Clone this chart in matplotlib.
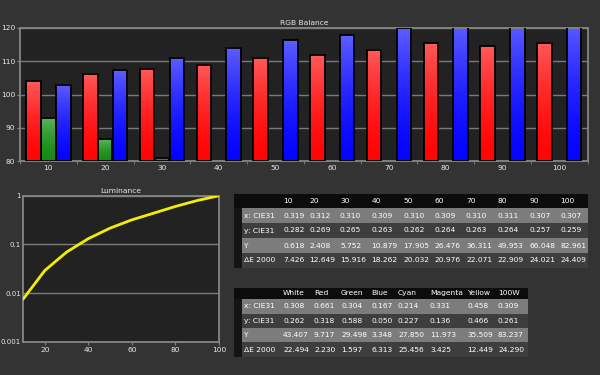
import numpy as np
import matplotlib
matplotlib.use("Agg")
import matplotlib.pyplot as plt
from matplotlib.colors import LinearSegmentedColormap

# ---------------- data ----------------
levels = [10, 20, 30, 40, 50, 60, 70, 80, 90, 100]
red_vals = [104.0, 106.2, 107.8, 109.0, 111.0, 111.8, 113.5, 115.4, 114.5, 115.6]
green_vals = [93.0, 86.5, 81.0, np.nan, np.nan, np.nan, np.nan, np.nan, np.nan, np.nan]
blue_vals = [103.0, 107.5, 111.0, 114.0, 116.3, 117.8, 119.9, 121.2, 121.8, 122.3]

lum_x = [10, 20, 30, 40, 50, 60, 70, 80, 90, 100]
lum_y = [0.618, 2.408, 5.752, 10.879, 17.905, 26.476, 36.311, 49.953, 66.048, 82.961]

t1_header = ["10", "20", "30", "40", "50", "60", "70", "80", "90", "100"]
row_labels = ["x: CIE31", "y: CIE31", "Y", "ΔE 2000"]
t1_x = ["0.319", "0.312", "0.310", "0.309", "0.310", "0.309", "0.310", "0.311", "0.307", "0.307"]
t1_y = ["0.282", "0.269", "0.265", "0.263", "0.262", "0.264", "0.263", "0.264", "0.257", "0.259"]
t1_Y = ["0.618", "2.408", "5.752", "10.879", "17.905", "26.476", "36.311", "49.953", "66.048", "82.961"]
t1_dE = ["7.426", "12.649", "15.916", "18.262", "20.032", "20.976", "22.071", "22.909", "24.021", "24.409"]

t2_header = ["White", "Red", "Green", "Blue", "Cyan", "Magenta", "Yellow", "100W"]
t2_x = ["0.308", "0.661", "0.304", "0.167", "0.214", "0.331", "0.458", "0.309"]
t2_y = ["0.262", "0.318", "0.588", "0.050", "0.227", "0.136", "0.466", "0.261"]
t2_Y = ["43.407", "9.717", "29.498", "3.348", "27.850", "11.973", "35.509", "83.237"]
t2_dE = ["22.494", "2.230", "1.597", "6.313", "25.456", "3.425", "12.449", "24.290"]

# ---------------- style ----------------
FIG_BG = "#333333"
AX_BG = "#222222"
SPINE = "#858585"
GRID = "#7a7a7a"
TXT = "#e8e8e8"
FS = 5.4
plt.rcParams['font.family'] = ['DejaVu Sans']

W, H = 600, 375
fig = plt.figure(figsize=(6, 3.75), dpi=100, facecolor=FIG_BG)


def px_axes(x0, y0, x1, y1):
    return fig.add_axes([x0 / W, 1 - y1 / H, (x1 - x0) / W, (y1 - y0) / H])


def style_axes(ax):
    ax.set_facecolor(AX_BG)
    for s in ax.spines.values():
        s.set_color(SPINE)
        s.set_linewidth(1.3)
    ax.tick_params(colors=SPINE, labelcolor=TXT, labelsize=FS, length=2, width=0.8, pad=1.5)


# ---------------- RGB balance ----------------
ax = px_axes(20, 28, 587.5, 161)
style_axes(ax)
ax.set_axisbelow(True)
bw = 2.55
offs = [-2.6, 0.0, 2.65]
grad = np.linspace(0, 1, 256).reshape(-1, 1) ** 1.6
cmaps = [
    LinearSegmentedColormap.from_list("r", ["#ff0505", "#ff5a5a"]),
    LinearSegmentedColormap.from_list("g", ["#158a15", "#5cb45c"]),
    LinearSegmentedColormap.from_list("b", ["#0505ff", "#5e5eff"]),
]
base = 80
for vals, off, cm in zip([red_vals, green_vals, blue_vals], offs, cmaps):
    xs = np.array(levels, dtype=float) + off
    hs = np.array(vals, dtype=float) - base
    bars = ax.bar(xs, hs, width=bw, bottom=base, facecolor="none",
                  edgecolor="black", linewidth=1.3, zorder=4)
    for b in bars:
        h = b.get_height()
        if not np.isfinite(h) or h <= 0:
            continue
        x0 = b.get_x()
        ax.imshow(grad, extent=[x0, x0 + b.get_width(), base, base + h],
                  origin="lower", aspect="auto", cmap=cm, zorder=2,
                  interpolation="bilinear")
ax.set_xlim(5, 105)
ax.set_ylim(80, 120)
ax.set_yticks([80, 90, 100, 110, 120])
ax.set_xticks(levels)
ax.set_xticks(np.arange(5, 106, 10), minor=True)
ax.tick_params(axis="x", which="major", length=0, pad=3)
ax.tick_params(axis="x", which="minor", length=2, colors=SPINE)
ax.grid(axis="y", color=GRID, linewidth=1.0, zorder=1)
ax.set_title("RGB Balance", color=TXT, fontsize=FS, pad=2)

# ---------------- Luminance ----------------
ax2 = px_axes(23, 195.7, 219, 341.7)
style_axes(ax2)
ax2.set_axisbelow(True)
ly = np.array(lum_y) / lum_y[-1]
ax2.plot(lum_x, ly, color="#f2f000", linewidth=2.0, zorder=3,
         solid_capstyle="round")
ax2.set_yscale("log")
ax2.set_xlim(10, 100)
ax2.set_ylim(0.001, 1)
ax2.set_xticks([20, 40, 60, 80, 100])
ax2.set_yticks([0.001, 0.01, 0.1, 1])
ax2.set_yticklabels(["0.001", "0.01", "0.1", "1"])
ax2.yaxis.set_minor_locator(matplotlib.ticker.NullLocator())
ax2.tick_params(axis="y", length=1, pad=0.4, labelsize=5.0)
ax2.grid(axis="y", color=GRID, linewidth=1.0, zorder=1)
ax2.set_title("Luminance", color=TXT, fontsize=FS, pad=2)

# ---------------- tables ----------------
axt = fig.add_axes([0, 0, 1, 1])
axt.set_xlim(0, W)
axt.set_ylim(H, 0)
axt.axis("off")
axt.patch.set_alpha(0)

LIGHT = "#7c7c7c"
DARK = "#3e3e3e"
HEAD = "#0c0c0c"
STRIP = "#141414"


def draw_table(header, rows, col_x, right, row_y, label_x=243.5, left=234, strip_r=241.5):
    axt.add_patch(plt.Rectangle((left, row_y[0]), right - left, row_y[1] - row_y[0],
                                facecolor=HEAD, edgecolor="none"))
    for i, lab in enumerate(row_labels):
        y0, y1 = row_y[i + 1], row_y[i + 2]
        c = LIGHT if i % 2 == 0 else DARK
        axt.add_patch(plt.Rectangle((strip_r, y0), right - strip_r, y1 - y0,
                                    facecolor=c, edgecolor="none"))
        axt.add_patch(plt.Rectangle((left, y0), strip_r - left, y1 - y0,
                                    facecolor=STRIP, edgecolor="none"))
        axt.text(label_x, (y0 + y1) / 2, lab, color="white", fontsize=FS,
                 ha="left", va="center")
        for cx, v in zip(col_x, rows[i]):
            axt.text(cx, (y0 + y1) / 2, v, color="white", fontsize=FS,
                     ha="left", va="center")
    for cx, h in zip(col_x, header):
        axt.text(cx, (row_y[0] + row_y[1]) / 2, h, color="white", fontsize=FS,
                 ha="left", va="center")


t1_cols = [283.0, 309.0, 340.0, 371.5, 403.0, 434.5, 466.0, 497.5, 529.0, 560.5]
draw_table(t1_header, [t1_x, t1_y, t1_Y, t1_dE], t1_cols, 588,
           [193.5, 208, 223, 238, 253, 268])

t2_cols = [283.0, 314.0, 341.0, 371.5, 398.0, 430.0, 467.0, 498.0]
draw_table(t2_header, [t2_x, t2_y, t2_Y, t2_dE], t2_cols, 528,
           [287.5, 299, 314, 328, 342, 357])

fig.savefig("out.png", dpi=100, facecolor=FIG_BG)
